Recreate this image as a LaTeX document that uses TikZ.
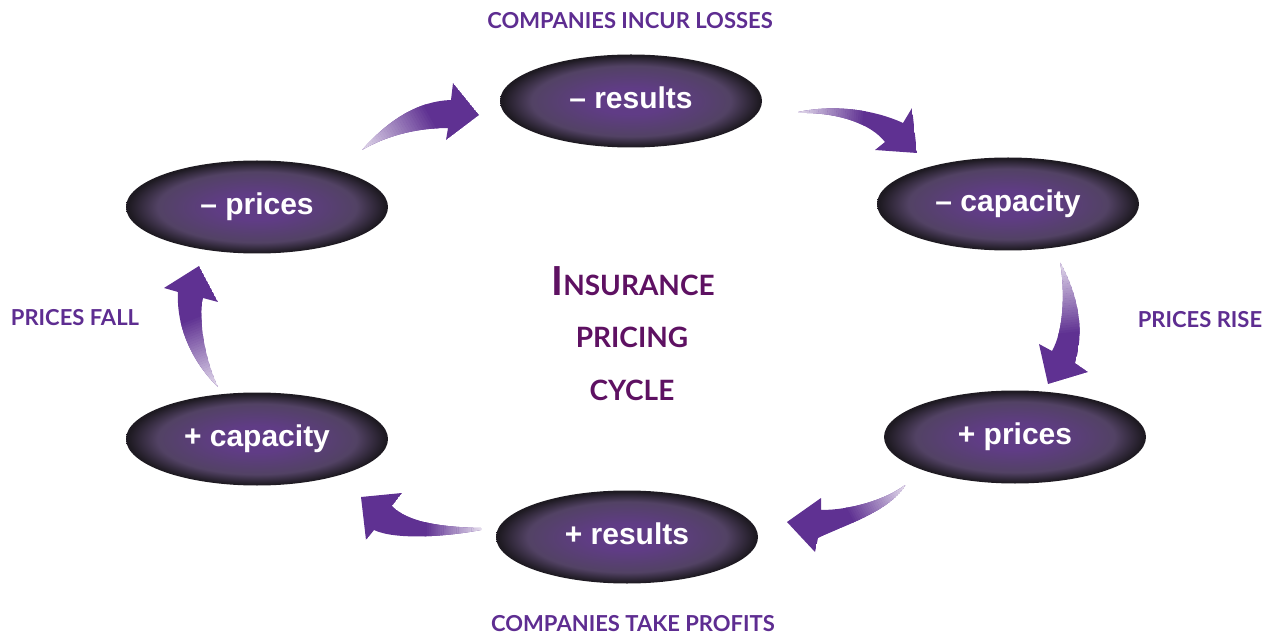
\documentclass[tikz,border=0pt]{standalone}
\usepackage{fontspec}
\setmainfont{Liberation Sans}
\newfontfamily\lblfont{Lato}
\usetikzlibrary{calc,shapes.geometric}

\definecolor{apurple}{RGB}{95,49,146}
\definecolor{lblpurple}{RGB}{94,45,145}
\definecolor{ttlpurple}{RGB}{94,17,98}
\definecolor{ecenter}{RGB}{96,60,134}
\definecolor{emid}{RGB}{82,66,100}
\definecolor{eedge}{RGB}{30,26,34}

% oval fill: purple core, grey-violet ring, almost black rim (rim at 25bp)
\pgfdeclareradialshading{ovalshade}{\pgfpoint{0bp}{0bp}}{%
  color(0bp)=(ecenter); color(7bp)=(ecenter); color(19bp)=(emid);
  color(24.5bp)=(eedge); color(50bp)=(eedge)}

% block arrow whose colour fades from pale at the tail (#2) to solid at #3
\newcommand{\fadearrow}[3]{%
  \begin{scope}
    \clip #1;
    \fill[apurple] #1;
    \coordinate (fa-d) at ($#2!2!#3$);
    \coordinate (fa-q) at ($#2!-1!#3$);
    \fill[apurple!18!white]
      ($(fa-q)!150pt!90:(fa-d)$) -- ($(fa-q)!150pt!-90:(fa-d)$) --
      ($#2!150pt!-90:(fa-d)$) -- ($#2!150pt!90:(fa-d)$) -- cycle;
    \foreach \i in {0,...,29}{
      \pgfmathsetmacro\ta{\i/30}
      \pgfmathsetmacro\tb{(\i+1.15)/30}
      \pgfmathsetmacro\pc{18+82*\i/29}
      \coordinate (fa-a) at ($#2!\ta!#3$);
      \coordinate (fa-b) at ($#2!\tb!#3$);
      \fill[apurple!\pc!white]
        ($(fa-a)!150pt!90:(fa-d)$) -- ($(fa-a)!150pt!-90:(fa-d)$) --
        ($(fa-b)!150pt!-90:(fa-d)$) -- ($(fa-b)!150pt!90:(fa-d)$) -- cycle;
    }
  \end{scope}}

\tikzset{
  oval/.style={ellipse, minimum width=262pt, minimum height=93pt,
    shading=ovalshade, text=white, inner sep=0pt,
    font=\bfseries\fontsize{30}{30}\selectfont,
    text height=21.6pt, text depth=6.3pt},
  lbl/.style={text=lblpurple, inner sep=0pt, anchor=base,
    font=\lblfont\bfseries\fontsize{22}{22}\selectfont},
  ttl/.style={text=ttlpurple, inner sep=0pt, anchor=base,
    font=\lblfont\bfseries\fontsize{28}{28}\selectfont},
}

\begin{document}
\begin{tikzpicture}[x=1pt,y=-1pt]
\useasboundingbox (0,0) rectangle (1272,636);

% the six stages of the cycle
\node[oval] (rmin) at (631,101) {– results};
\node[oval] (cmin) at (1008,204) {– capacity};
\node[oval] (pplus) at (1015,437) {+ prices};
\node[oval] (rplus) at (627,537) {+ results};
\node[oval] (cplus) at (257,439) {+ capacity};
\node[oval] (pmin) at (257,207) {– prices};

% curved block arrows between the stages
\fadearrow{(362,150) .. controls (390,118) and (420,101) .. (451,100)
  -- (453,83) -- (479,115) -- (446,140) -- (448,128)
  .. controls (420,128) and (390,134) .. (362,150) -- cycle}{(362,150)}{(430,112)}
\fadearrow{(798,112) .. controls (835,104) and (875,110) .. (903,123)
  -- (912,108) -- (917,153) -- (875,150) -- (885,142)
  .. controls (872,125) and (840,112) .. (798,113) -- cycle}{(798,112)}{(865,118)}
\fadearrow{(1060,262) .. controls (1078,295) and (1085,330) .. (1075,363)
  -- (1088,372) -- (1048,384) -- (1039,344) -- (1052,351)
  .. controls (1064,330) and (1065,290) .. (1060,262) -- cycle}{(1060,262)}{(1068,335)}
\fadearrow{(905,485) .. controls (885,500) and (850,510) .. (821,510)
  -- (821,498) -- (787,522) -- (815,552) -- (818,538)
  .. controls (845,525) and (888,512) .. (905,486) -- cycle}{(905,485)}{(848,515)}
\fadearrow{(481,528) .. controls (440,527) and (408,522) .. (392,506)
  -- (402,493) -- (361,497) -- (366,540) -- (374,530)
  .. controls (395,540) and (445,537) .. (481,530) -- cycle}{(481,529)}{(425,528)}
\fadearrow{(218,387) .. controls (195,365) and (176,330) .. (178,292)
  -- (164,288) -- (199,266) -- (218,302) -- (203,298)
  .. controls (198,320) and (205,360) .. (218,387) -- cycle}{(218,387)}{(190,318)}

% phase labels
\node[lbl] (loss) at (630,29) {COMPANIES INCUR LOSSES};
\node[lbl] (rise) at (1200,328) {PRICES RISE};
\node[lbl] (fall) at (75,326) {PRICES FALL};
\node[lbl] (profit) at (633,631) {COMPANIES TAKE PROFITS};

% centre title
\node[ttl] (t1) at (633,296) {{\fontsize{40}{40}\selectfont I}NSURANCE};
\node[ttl] (t2) at (632,348) {PRICING};
\node[ttl] (t3) at (632,400) {CYCLE};
\end{tikzpicture}
\end{document}
